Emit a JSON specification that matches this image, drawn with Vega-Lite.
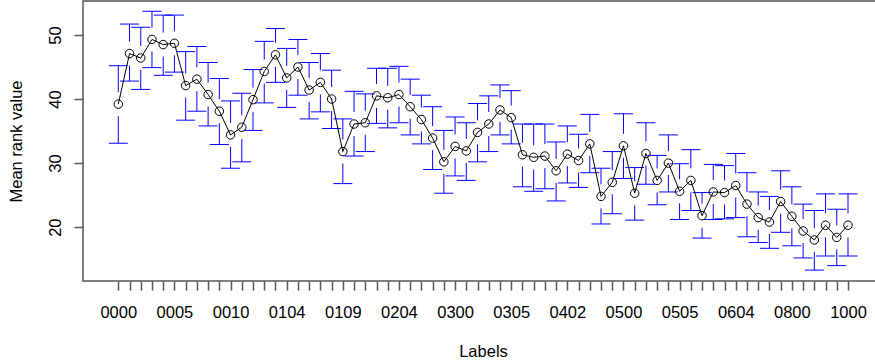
{
  "$schema": "https://vega.github.io/schema/vega-lite/v6.json",
  "autosize": "none",
  "padding": {"top": 1, "left": 83, "bottom": 81, "right": -8},
  "width": 800,
  "height": 280,
  "config": {
    "view": {"stroke": "#555", "strokeWidth": 1.5},
    "axis": {
      "labelFont": "Liberation Sans", "labelFontSize": 16.5, "labelColor": "#000",
      "titleFont": "Liberation Sans", "titleFontSize": 16.5, "titleFontWeight": "normal", "titleColor": "#000",
      "grid": false, "domain": false, "tickColor": "#555", "tickWidth": 1.5, "tickSize": 9
    }
  },
  "data": {"values": [
    {"label": "0000", "mean": 39.2, "lower": 33.1, "upper": 45.2},
    {"label": "0001", "mean": 47.1, "lower": 42.8, "upper": 51.7},
    {"label": "0002", "mean": 46.4, "lower": 41.5, "upper": 51.2},
    {"label": "0003", "mean": 49.3, "lower": 44.9, "upper": 53.7},
    {"label": "0004", "mean": 48.5, "lower": 43.7, "upper": 53.1},
    {"label": "0005", "mean": 48.7, "lower": 44.2, "upper": 53.1},
    {"label": "0006", "mean": 42.1, "lower": 36.7, "upper": 47.4},
    {"label": "0007", "mean": 43.1, "lower": 38.1, "upper": 48.2},
    {"label": "0008", "mean": 40.7, "lower": 35.8, "upper": 45.7},
    {"label": "0009", "mean": 38.1, "lower": 32.9, "upper": 43.2},
    {"label": "0010", "mean": 34.4, "lower": 29.2, "upper": 39.7},
    {"label": "0100", "mean": 35.6, "lower": 30.2, "upper": 40.9},
    {"label": "0101", "mean": 39.9, "lower": 35.1, "upper": 44.6},
    {"label": "0102", "mean": 44.3, "lower": 39.4, "upper": 49.0},
    {"label": "0103", "mean": 46.9, "lower": 42.6, "upper": 51.0},
    {"label": "0104", "mean": 43.3, "lower": 38.7, "upper": 47.9},
    {"label": "0105", "mean": 45.0, "lower": 40.6, "upper": 49.3},
    {"label": "0106", "mean": 41.4, "lower": 36.9, "upper": 45.7},
    {"label": "0107", "mean": 42.6, "lower": 38.0, "upper": 47.1},
    {"label": "0108", "mean": 40.0, "lower": 35.4, "upper": 44.5},
    {"label": "0109", "mean": 31.8, "lower": 26.8, "upper": 36.9},
    {"label": "0200", "mean": 36.1, "lower": 31.1, "upper": 41.2},
    {"label": "0201", "mean": 36.3, "lower": 31.8, "upper": 40.8},
    {"label": "0202", "mean": 40.5, "lower": 36.2, "upper": 44.8},
    {"label": "0203", "mean": 40.2, "lower": 35.5, "upper": 44.8},
    {"label": "0204", "mean": 40.7, "lower": 36.3, "upper": 45.1},
    {"label": "0205", "mean": 38.8, "lower": 34.4, "upper": 43.1},
    {"label": "0206", "mean": 36.8, "lower": 33.0, "upper": 40.6},
    {"label": "0207", "mean": 33.9, "lower": 29.0, "upper": 38.8},
    {"label": "0208", "mean": 30.2, "lower": 25.3, "upper": 35.1},
    {"label": "0300", "mean": 32.6, "lower": 28.0, "upper": 37.2},
    {"label": "0301", "mean": 31.9, "lower": 27.3, "upper": 36.3},
    {"label": "0302", "mean": 34.8, "lower": 30.2, "upper": 39.3},
    {"label": "0303", "mean": 36.1, "lower": 31.8, "upper": 40.5},
    {"label": "0304", "mean": 38.3, "lower": 34.4, "upper": 42.2},
    {"label": "0305", "mean": 37.1, "lower": 33.0, "upper": 41.3},
    {"label": "0306", "mean": 31.3, "lower": 26.3, "upper": 36.1},
    {"label": "0307", "mean": 30.9, "lower": 25.6, "upper": 36.1},
    {"label": "0400", "mean": 31.1, "lower": 26.0, "upper": 36.1},
    {"label": "0401", "mean": 28.8, "lower": 24.1, "upper": 33.3},
    {"label": "0402", "mean": 31.4, "lower": 26.9, "upper": 35.8},
    {"label": "0403", "mean": 30.4, "lower": 26.2, "upper": 34.5},
    {"label": "0404", "mean": 33.0, "lower": 28.5, "upper": 37.6},
    {"label": "0405", "mean": 24.8, "lower": 20.5, "upper": 29.2},
    {"label": "0406", "mean": 27.0, "lower": 22.1, "upper": 31.8},
    {"label": "0500", "mean": 32.7, "lower": 27.6, "upper": 37.7},
    {"label": "0501", "mean": 25.3, "lower": 21.1, "upper": 29.3},
    {"label": "0502", "mean": 31.5, "lower": 26.7, "upper": 36.3},
    {"label": "0503", "mean": 27.3, "lower": 23.5, "upper": 31.2},
    {"label": "0504", "mean": 30.0, "lower": 25.5, "upper": 34.4},
    {"label": "0505", "mean": 25.6, "lower": 21.2, "upper": 29.9},
    {"label": "0600", "mean": 27.3, "lower": 22.6, "upper": 32.1},
    {"label": "0601", "mean": 21.8, "lower": 18.3, "upper": 25.4},
    {"label": "0602", "mean": 25.5, "lower": 21.2, "upper": 29.8},
    {"label": "0603", "mean": 25.4, "lower": 21.3, "upper": 29.6},
    {"label": "0604", "mean": 26.5, "lower": 21.5, "upper": 31.5},
    {"label": "0605", "mean": 23.6, "lower": 18.5, "upper": 28.5},
    {"label": "0606", "mean": 21.5, "lower": 17.6, "upper": 25.5},
    {"label": "0700", "mean": 20.8, "lower": 16.7, "upper": 24.8},
    {"label": "0701", "mean": 24.0, "lower": 19.2, "upper": 28.8},
    {"label": "0800", "mean": 21.7, "lower": 17.1, "upper": 26.3},
    {"label": "0801", "mean": 19.4, "lower": 15.2, "upper": 23.6},
    {"label": "0802", "mean": 18.0, "lower": 13.3, "upper": 22.6},
    {"label": "0900", "mean": 20.3, "lower": 15.5, "upper": 25.2},
    {"label": "0901", "mean": 18.4, "lower": 14.0, "upper": 22.8},
    {"label": "1000", "mean": 20.3, "lower": 15.5, "upper": 25.2}
  ]},
  "encoding": {
    "x": {
      "field": "label", "type": "ordinal", "sort": null,
      "scale": {"type": "point", "padding": 0, "range": [35.3, 765]},
      "axis": {
        "title": "Labels", "labelAngle": 0, "labelOverlap": false,
        "labelBaseline": "alphabetic", "labelAlign": "center", "labelPadding": 27,
        "labelExpr": "indexof(['0000','0005','0010','0104','0109','0204','0300','0305','0402','0500','0505','0604','0800','1000'], datum.label) >= 0 ? datum.label : ''",
        "titleX": 400, "titleY": 75, "titleBaseline": "alphabetic", "titleAlign": "center"
      }
    }
  },
  "layer": [
    {
      "mark": {"type": "rule", "color": "#0000ff", "strokeWidth": 1},
      "encoding": {
        "y": {"field": "lower", "type": "quantitative",
          "scale": {"domain": [11.6, 55.3], "nice": false, "zero": false},
          "axis": {"title": "Mean rank value", "values": [20, 30, 40, 50],
            "labelAngle": -90, "labelAlign": "center", "labelBaseline": "alphabetic", "labelPadding": 14,
            "titleX": -62, "titleY": 140, "titleAngle": -90, "titleBaseline": "alphabetic", "titleAlign": "center"}},
        "y2": {"field": "upper"}
      }
    },
    {
      "mark": {"type": "point", "shape": "M0,-1L0,1", "size": 576, "stroke": "#ffffff", "strokeWidth": 3, "filled": false, "opacity": 1},
      "encoding": {"y": {"field": "mean", "type": "quantitative"}}
    },
    {
      "mark": {"type": "point", "shape": "M-1,0L1,0", "size": 361, "stroke": "#0000ff", "strokeWidth": 1, "filled": false, "opacity": 1},
      "encoding": {"y": {"field": "upper", "type": "quantitative"}}
    },
    {
      "mark": {"type": "point", "shape": "M-1,0L1,0", "size": 361, "stroke": "#0000ff", "strokeWidth": 1, "filled": false, "opacity": 1},
      "encoding": {"y": {"field": "lower", "type": "quantitative"}}
    },
    {
      "mark": {"type": "line", "color": "#000000", "strokeWidth": 1},
      "encoding": {"y": {"field": "mean", "type": "quantitative"}}
    },
    {
      "mark": {"type": "point", "shape": "circle", "size": 72, "stroke": "#000000", "strokeWidth": 1, "filled": false, "opacity": 1},
      "encoding": {"y": {"field": "mean", "type": "quantitative"}}
    }
  ]
}
